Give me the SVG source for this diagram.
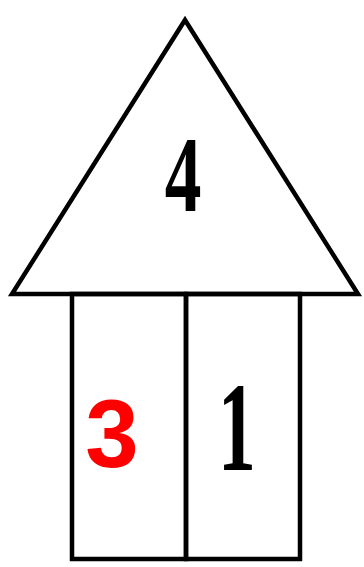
<svg xmlns="http://www.w3.org/2000/svg" width="364" height="567" viewBox="0 0 364 567">
<style>
.ln{fill:none;stroke:#000;stroke-width:4.5;stroke-linejoin:miter}
.serif{font-family:"Liberation Serif","DejaVu Serif",serif;font-weight:bold;fill:#000}
</style>
<rect width="364" height="567" fill="#fff"/>
<g id="roof"><polygon class="ln" points="185,20 12,294 358,294"/>
<text class="serif" font-size="108" text-anchor="middle" transform="translate(183,211) scale(0.68,1)">4</text></g>
<g id="left"><rect class="ln" x="72" y="294" width="114" height="265"/>
<text x="112" y="467" font-family="Liberation Sans,Arial,sans-serif" font-weight="bold" font-size="96" fill="#f00" text-anchor="middle">3</text></g>
<g id="right"><rect class="ln" x="186" y="294" width="114" height="265"/>
<text class="serif" font-size="126" text-anchor="middle" transform="translate(237,470) scale(0.6,1)">1</text></g>
</svg>
